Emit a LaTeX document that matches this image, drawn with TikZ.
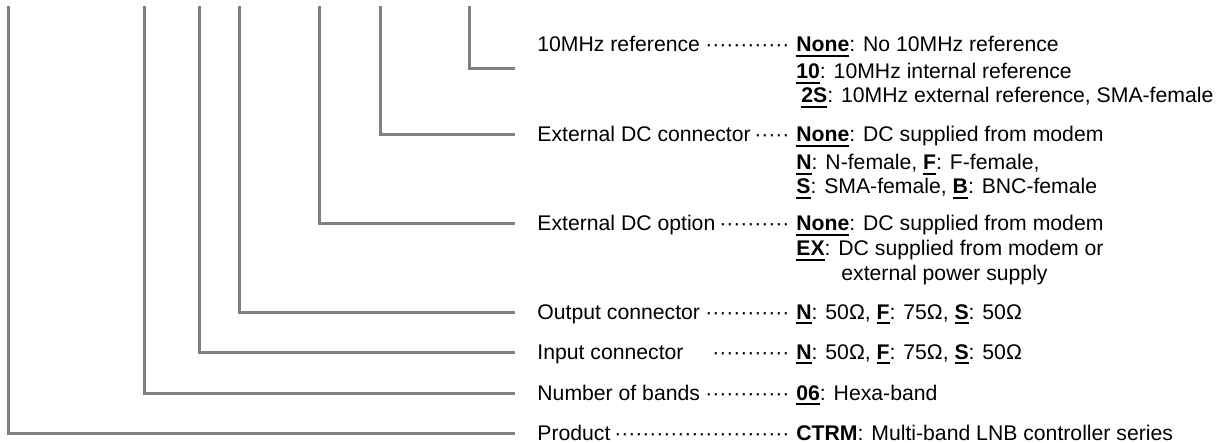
\documentclass[tikz,border=0pt]{standalone}
\usepackage{fontspec}
\setmainfont{Liberation Sans}
\usetikzlibrary{calc}

\newcommand{\opt}[1]{\setbox0\hbox{\textbf{#1}}\rlap{\rule[-2.3pt]{\wd0}{0.9pt}}\box0}
\newcommand{\dotsto}[1]{\makebox[126pt][l]{#1\hspace{1.5pt}\leaders\hbox to 3.5pt{\hss·\hss}\hfill}}

\tikzset{
  conn/.style={draw=black!50, line width=1.5pt},
  lbl/.style={anchor=west, inner sep=0pt, text height=7.6pt, text depth=0.6pt,
    font=\fontsize{10.6}{12}\selectfont},
  val/.style={anchor=base west, inner sep=0pt, font=\fontsize{10.6}{12}\selectfont}
}

\begin{document}
\begin{tikzpicture}[x=0.5pt, y=-0.5pt, line cap=butt, line join=miter]
    \useasboundingbox (0,0) rectangle (1230,443);

    \coordinate (prod top) at (8, 6);
    \coordinate (band top) at (144, 6);
    \coordinate (in top) at (199, 6);
    \coordinate (out top) at (239, 6);
    \coordinate (dcopt top) at (319, 6);
    \coordinate (dccon top) at (380, 6);
    \coordinate (ref top) at (469, 6);
    \coordinate (ref end) at (515, 69);

    \node[lbl] (ref) at (537, 45) {\dotsto{10MHz reference}};
    \node[lbl] (dccon) at (537, 135) {\dotsto{External DC connector}};
    \node[lbl] (dcopt) at (537, 224) {\dotsto{External DC option}};
    \node[lbl] (out) at (537, 312) {\dotsto{Output connector}};
    \node[lbl] (in) at (537, 352) {\dotsto{Input connector\hspace{10pt}}};
    \node[lbl] (band) at (537, 393) {\dotsto{Number of bands}};
    \node[lbl] (prod) at (537, 433) {\dotsto{Product}};

    \draw[conn] (ref top) |- (ref end);
    \draw[conn] (dccon top) |- ([xshift=-11pt]dccon.west);
    \draw[conn] (dcopt top) |- ([xshift=-11pt]dcopt.west);
    \draw[conn] (out top) |- ([xshift=-11pt]out.west);
    \draw[conn] (in top) |- ([xshift=-11pt]in.west);
    \draw[conn] (band top) |- ([xshift=-11pt]band.west);
    \draw[conn] (prod top) |- ([xshift=-11pt]prod.west);

    \node[val] (ref none) at (796, 52) {\opt{None}: No 10MHz reference};
    \node[val] (ref int) at (796, 79) {\opt{10}: 10MHz internal reference};
    \node[val] (ref ext) at (796, 103) {\hspace*{2.5pt}\opt{2S}: 10MHz external reference, SMA-female};

    \node[val] (dccon none) at (796, 142) {\opt{None}: DC supplied from modem};
    \node[val] (dccon nf) at (796, 170) {\opt{N}: N-female, \opt{F}: F-female,};
    \node[val] (dccon sb) at (796, 194) {\opt{S}: SMA-female, \opt{B}: BNC-female};

    \node[val] (dcopt none) at (796, 231) {\opt{None}: DC supplied from modem};
    \node[val] (dcopt ex) at (796, 256) {\opt{EX}: DC supplied from modem or};
    \node[val] (dcopt ex2) at (796, 280) {\hspace*{22.5pt}external power supply};

    \node[val] (out val) at (796, 319) {\opt{N}: 50Ω, \opt{F}: 75Ω, \opt{S}: 50Ω};
    \node[val] (in val) at (796, 359) {\opt{N}: 50Ω, \opt{F}: 75Ω, \opt{S}: 50Ω};
    \node[val] (band val) at (796, 400) {\opt{06}: Hexa-band};
    \node[val] (prod val) at (796, 440) {\opt{CTRM}: Multi-band LNB controller series};
    \end{tikzpicture}
\end{document}
